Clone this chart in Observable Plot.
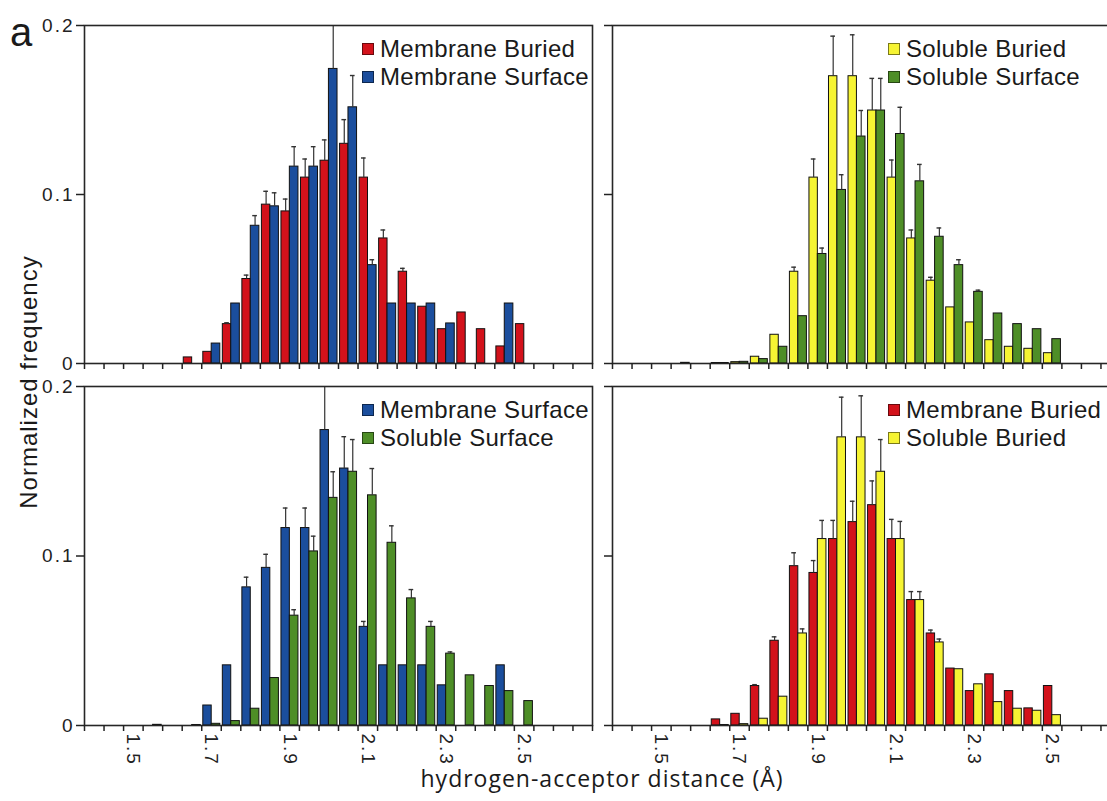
<!DOCTYPE html>
<html><head><meta charset="utf-8">
<script src="https://cdn.jsdelivr.net/npm/d3@7"></script>
<script src="https://cdn.jsdelivr.net/npm/@observablehq/plot@0.6"></script>
<style>
html,body{margin:0;padding:0;background:#fff;overflow:hidden;}
#chart{position:relative;width:1107px;height:801px;overflow:hidden;background:#fff;font-family:"Liberation Sans",Arial,sans-serif;color:#1a1a1a;}
.panel{position:absolute;}
.panel svg{max-width:none !important;}
.panel svg text{font-size:19px !important;letter-spacing:2px;}
.legend{position:absolute;font-size:24px;line-height:28px;letter-spacing:0.3px;}
.legend .row{display:flex;align-items:flex-start;white-space:nowrap;}
.legend .sw{width:12px;height:12px;margin-top:8px;margin-right:6px;box-sizing:border-box;border:1px solid rgba(0,0,0,.5);flex:none;}
.ylab{position:absolute;left:29px;top:382px;transform:translate(-50%,-50%) rotate(-90deg);white-space:nowrap;font-size:24px;letter-spacing:1px;}
.xlab{position:absolute;left:602px;top:767px;transform:translateX(-50%);white-space:nowrap;font-family:"Open Sans",sans-serif;font-size:23px;line-height:23px;letter-spacing:1px;}
.tag{position:absolute;left:10px;top:12px;font-size:40px;line-height:40px;}
</style></head><body><div id="chart"></div>
<script>
// bin centres (Å)
const binCenters = [1.40,1.45,1.50,1.55,1.60,1.65,1.70,1.75,1.80,1.85,1.90,1.95,2.00,2.05,2.10,2.15,2.20,2.25,2.30,2.35,2.40,2.45,2.50,2.55,2.60,2.65];
const xTickLabels = [1.5,1.7,1.9,2.1,2.3,2.5];
const yTickValues = [0,0.1,0.2];

const membraneBuried    = [0,0,0,0,0,0.0036,0.0069,0.0233,0.050,0.094,0.090,0.110,0.120,0.130,0.110,0.074,0.0543,0.0336,0.0203,0.0302,0.0203,0.0101,0.0233,0,0,0];
const membraneBuriedErr = [0,0,0,0,0,0,0,0.0008,0.0023,0.0079,0.0073,0.011,0.0123,0.0143,0.0116,0.005,0.002,0,0,0,0,0,0,0,0,0];
const membraneSurface    = [0,0,0,0,0,0,0.0118,0.0355,0.0815,0.093,0.1165,0.1165,0.1743,0.1516,0.0582,0.0355,0.0355,0.0355,0.0237,0,0,0.0355,0,0,0,0];
const membraneSurfaceErr = [0,0,0,0,0,0,0,0,0.006,0.008,0.0118,0.0118,0.04,0.0188,0.0032,0,0,0,0,0,0,0,0,0,0,0];
const solubleBuried    = [0,0,0,0,0,0.0003,0.0008,0.004,0.017,0.0543,0.110,0.170,0.170,0.1497,0.110,0.074,0.049,0.0332,0.0243,0.0138,0.0099,0.0087,0.0061,0,0,0];
const solubleBuriedErr = [0,0,0,0,0,0,0,0,0,0.0027,0.011,0.0237,0.0245,0.019,0.0104,0.005,0.002,0,0,0,0,0,0,0,0,0];
const solubleSurface    = [0,0,0,0.0004,0,0.0003,0.001,0.0026,0.0099,0.028,0.0648,0.1027,0.1343,0.1497,0.1358,0.1078,0.075,0.0582,0.0424,0.0296,0.0233,0.0203,0.0144,0,0,0];
const solubleSurfaceErr = [0,0,0,0,0,0,0,0,0,0,0.0035,0.009,0.0154,0.019,0.0158,0.010,0.0052,0.0032,0.001,0,0,0,0,0,0,0];

const seriesNames = ["Membrane Buried","Membrane Surface","Soluble Buried","Soluble Surface"];
const seriesColors = ["#d3121b","#1b4e9d","#f6f433","#4e8e27"];

const series = {
  "Membrane Buried": {v: membraneBuried, e: membraneBuriedErr},
  "Membrane Surface": {v: membraneSurface, e: membraneSurfaceErr},
  "Soluble Buried": {v: solubleBuried, e: solubleBuriedErr},
  "Soluble Surface": {v: solubleSurface, e: solubleSurfaceErr}
};
const colorOf = n => seriesColors[seriesNames.indexOf(n)];

const half = (binCenters[1] - binCenters[0]) / 2;
const binEdges = binCenters.map(c => c - half).concat([binCenters[binCenters.length - 1] + half]);

const panels = [
  {pair: ["Membrane Buried","Membrane Surface"], left: 0, top: 0, right: false, bottom: false},
  {pair: ["Soluble Buried","Soluble Surface"], left: 598, top: 0, right: true, bottom: false},
  {pair: ["Membrane Surface","Soluble Surface"], left: 0, top: 366, right: false, bottom: true},
  {pair: ["Membrane Buried","Soluble Buried"], left: 598, top: 366, right: true, bottom: true}
];

const chart = document.getElementById("chart");
const PW = 508;

function rowsOf(name) {
  const s = series[name];
  return binCenters.map((c, i) => ({c, v: s.v[i], e: s.e[i]})).filter(d => d.v > 0);
}

for (const p of panels) {
  const mL = p.right ? 14 : 84, mR = 6;
  const mT = p.bottom ? 20 : 25;
  const plotH = p.bottom ? 339 : 338;
  const mB = p.bottom ? 50 : 20;
  const offs = [[-0.021, 0.0005], [0.0005, 0.0225]];
  const marks = [];
  p.pair.forEach((name, j) => {
    const rows = rowsOf(name);
    const [a, b] = offs[j];
    marks.push(Plot.rect(rows, {x1: d => d.c + a, x2: d => d.c + b, y1: 0, y2: "v", fill: colorOf(name), stroke: "#111", strokeWidth: 1}));
  });
  p.pair.forEach((name, j) => {
    const rows = rowsOf(name).filter(d => d.e > 0);
    const [a, b] = offs[j];
    const mid = (a + b) / 2;
    marks.push(Plot.ruleX(rows, {x: d => d.c + mid, y1: "v", y2: d => d.v + d.e, stroke: "#333", strokeWidth: 1.2, clip: true}));
    marks.push(Plot.ruleY(rows, {y: d => d.v + d.e, x1: d => d.c + mid - 0.006, x2: d => d.c + mid + 0.006, stroke: "#333", strokeWidth: 1.4, clip: true}));
  });
  marks.push(Plot.frame({stroke: "#262626", strokeWidth: 1.6}));
  marks.push(Plot.axisY(yTickValues, {tickSize: 8, tickPadding: 2, strokeWidth: 1.5, fontSize: 19,
    tickFormat: p.right ? () => "" : (d => d === 0 ? "0" : d.toFixed(1)), label: null}));
  marks.push(Plot.axisX(binEdges, {tickSize: 6, strokeWidth: 1.5, tickFormat: () => "", label: null}));
  if (p.bottom) {
    marks.push(Plot.axisX(xTickLabels, {tickSize: 0, tickPadding: 8, tickRotate: 90, fontSize: 19,
      tickFormat: d => d.toFixed(1), label: null}));
  }
  const svg = Plot.plot({
    width: mL + PW + mR, height: mT + plotH + mB,
    marginLeft: mL, marginRight: mR, marginTop: mT, marginBottom: mB,
    x: {domain: [binEdges[0], binEdges[binEdges.length - 1]]},
    y: {domain: [0, 0.2]},
    style: {background: "transparent", overflow: "visible", maxWidth: "none", color: "#222",
      fontFamily: "Liberation Sans, Arial, sans-serif", fontSize: "19px"},
    marks
  });
  const div = document.createElement("div");
  div.className = "panel";
  div.style.left = p.left + "px";
  div.style.top = p.top + "px";
  div.style.width = (mL + PW + mR) + "px";
  div.appendChild(svg);
  chart.appendChild(div);

  const lg = document.createElement("div");
  lg.className = "legend";
  lg.style.left = (p.left + (p.right ? 290 : 362)) + "px";
  lg.style.top = (p.top + (p.bottom ? 30 : 35)) + "px";
  for (const name of p.pair) {
    const r = document.createElement("div");
    r.className = "row";
    const sw = document.createElement("span");
    sw.className = "sw";
    sw.style.background = colorOf(name);
    const t = document.createElement("span");
    t.textContent = name;
    r.appendChild(sw); r.appendChild(t);
    lg.appendChild(r);
  }
  chart.appendChild(lg);
}

const tag = document.createElement("div"); tag.className = "tag"; tag.textContent = "a"; chart.appendChild(tag);
const yl = document.createElement("div"); yl.className = "ylab"; yl.textContent = "Normalized frequency"; chart.appendChild(yl);
const xl = document.createElement("div"); xl.className = "xlab"; xl.textContent = "hydrogen-acceptor distance (Å)"; chart.appendChild(xl);
</script></body></html>
